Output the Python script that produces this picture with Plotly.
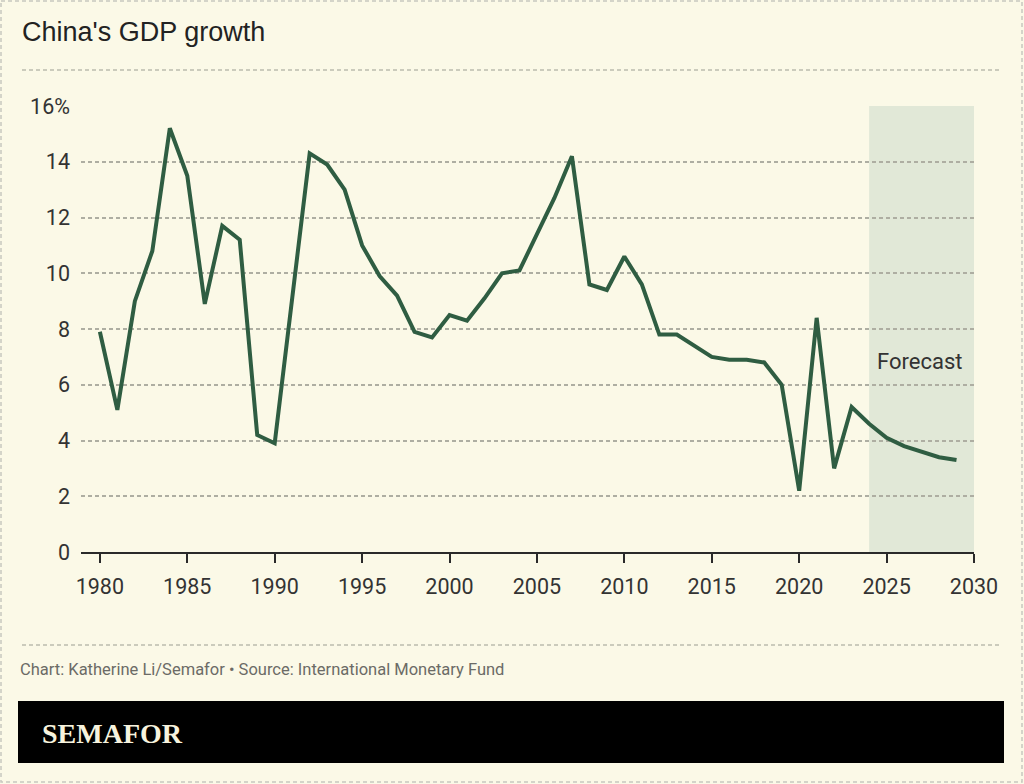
import plotly.graph_objects as go

years = list(range(1980, 2030))
growth = [7.9, 5.1, 9.0, 10.8, 15.2, 13.5, 8.9, 11.7, 11.2, 4.2,
          3.9, 9.2, 14.3, 13.9, 13.0, 11.0, 9.9, 9.2, 7.9, 7.7,
          8.5, 8.3, 9.1, 10.0, 10.1, 11.4, 12.7, 14.2, 9.6, 9.4,
          10.6, 9.6, 7.8, 7.8, 7.4, 7.0, 6.9, 6.9, 6.8, 6.0,
          2.2, 8.4, 3.0, 5.2, 4.6, 4.1, 3.8, 3.6, 3.4, 3.3]
forecast_start, forecast_end = 2024, 2030
x_ticks = list(range(1980, 2031, 5))
y_ticks = [0, 2, 4, 6, 8, 10, 12, 14, 16]
y_tick_text = ["0", "2", "4", "6", "8", "10", "12", "14", "16%"]

W, H = 1024, 784
L, R, T, B = 81, 974, 106, 552
BG = "#fbf9e7"

def px(x):
    return (x - L) / (R - L)

def py(y):
    return (B - y) / (B - T)

fig = go.Figure()
fig.add_trace(go.Scatter(x=years, y=growth, mode="lines",
                         line=dict(color="#2f5d42", width=4),
                         hoverinfo="skip", showlegend=False))

shapes = [
    dict(type="rect", xref="x", yref="y", x0=forecast_start, x1=forecast_end,
         y0=0, y1=16, fillcolor="#e1e8d7", line=dict(width=0), layer="below"),
    # outer dashed border
    dict(type="rect", xref="paper", yref="paper", x0=px(1), x1=px(1022),
         y0=py(1), y1=py(782), line=dict(color="#c8c8c0", width=1.5, dash="4px,3px")),
    # separators
    dict(type="line", xref="paper", yref="paper", x0=px(22), x1=px(1002),
         y0=py(70), y1=py(70), line=dict(color="#bcbcae", width=1.4, dash="4px,3px")),
    dict(type="line", xref="paper", yref="paper", x0=px(22), x1=px(1002),
         y0=py(645), y1=py(645), line=dict(color="#bcbcae", width=1.4, dash="4px,3px")),
    # black logo bar
    dict(type="rect", xref="paper", yref="paper", x0=px(18), x1=px(1004),
         y0=py(701), y1=py(763), fillcolor="#000000", line=dict(width=0)),
]

annotations = [
    dict(text="China's GDP growth", xref="paper", yref="paper", x=px(20), y=py(32),
         xanchor="left", yanchor="middle", showarrow=False,
         font=dict(family="Liberation Sans, Arial", size=27, color="#222222")),
    dict(text="Forecast", xref="x", yref="y", x=2026.9, y=6.85,
         xanchor="center", yanchor="middle", showarrow=False,
         font=dict(family="Roboto", size=22, color="#333333")),
    dict(text="Chart: Katherine Li/Semafor • Source: International Monetary Fund",
         xref="paper", yref="paper", x=px(18), y=py(669), xanchor="left", yanchor="middle",
         showarrow=False, font=dict(family="Roboto", size=16.5, color="#6b6b66")),
    dict(text="<b>SEMAFOR</b>", xref="paper", yref="paper", x=px(40), y=py(733),
         xanchor="left", yanchor="middle", showarrow=False,
         font=dict(family="Liberation Serif, serif", size=28, color="#f7f3de")),
]

fig.update_layout(
    width=W, height=H,
    margin=dict(l=L, r=W - R, t=T, b=H - B, pad=0),
    paper_bgcolor=BG, plot_bgcolor=BG,
    shapes=shapes, annotations=annotations,
    showlegend=False,
    xaxis=dict(range=[1978.92, 2030], tickvals=x_ticks, showgrid=False, zeroline=False,
               showline=True, linecolor="#2a2a2a", linewidth=1.6,
               ticks="outside", ticklen=9, tickwidth=1.6, tickcolor="#2a2a2a",
               tickfont=dict(family="Roboto", size=21.5, color="#333333"),
               ticklabelstandoff=5, fixedrange=True),
    yaxis=dict(range=[0, 16], tickvals=y_ticks, ticktext=y_tick_text,
               showgrid=True, gridcolor="#aeaea2", gridwidth=1.5, griddash="4px,3px",
               zeroline=False, showline=False, ticks="",
               tickfont=dict(family="Roboto", size=21.5, color="#333333"),
               ticklabelstandoff=10, fixedrange=True),
)

fig.write_html(
    "out.html",
    config={"displayModeBar": False},
    post_script="document.body.style.margin='0';document.body.style.background='%s';" % BG,
)
